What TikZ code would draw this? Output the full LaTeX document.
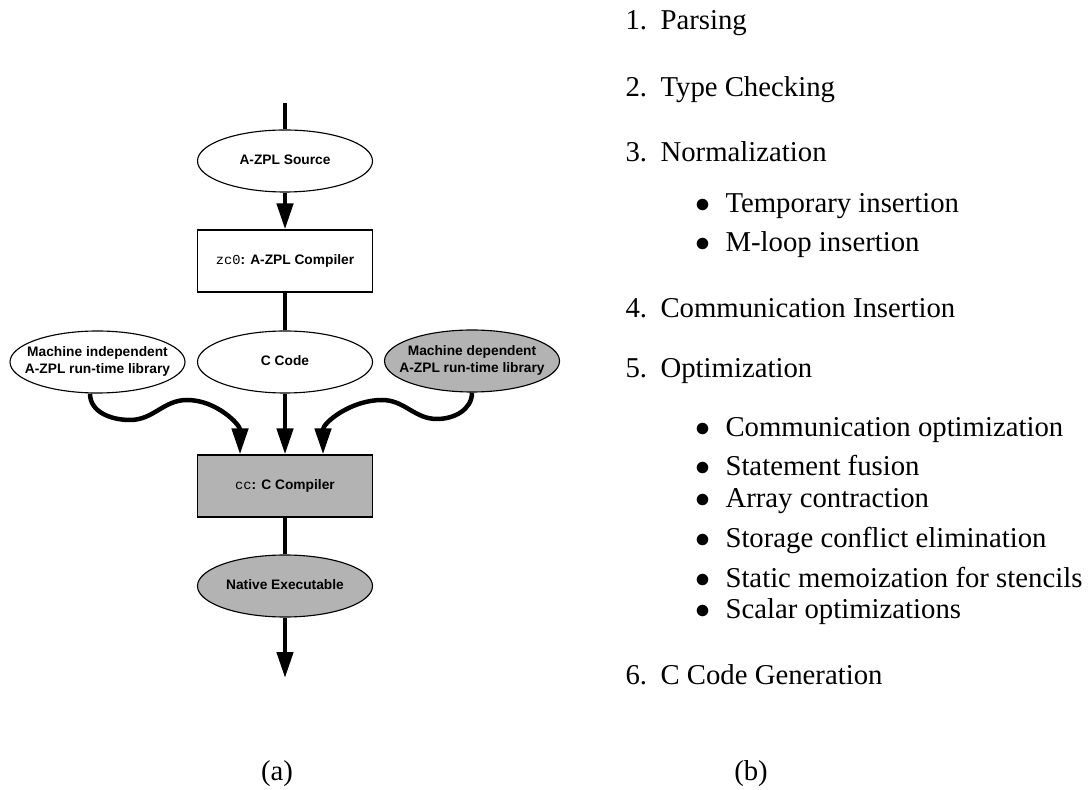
\documentclass[tikz,border=0pt]{standalone}
\usepackage{fontspec}
\setmainfont{Liberation Serif}
\setsansfont{Liberation Sans}
\setmonofont{Liberation Mono}
\usetikzlibrary{shapes.geometric,arrows.meta}
\definecolor{boxgray}{RGB}{179,179,179}
\newcommand{\zw}[1]{\makebox[0pt]{\begin{tabular}{@{}c@{}}#1\end{tabular}}}
\tikzset{
  flow/.style={line width=1.8pt},
  flowarr/.style={flow,-{Triangle[length=10.4pt,width=6.4pt]}},
  blob/.style={ellipse,draw,line width=0.45pt,inner sep=0pt,minimum width=70pt,minimum height=24.8pt,
    font=\fontsize{5.5}{6.8}\selectfont\sffamily\bfseries},
  stage/.style={rectangle,draw,line width=0.45pt,inner sep=0pt,minimum width=70pt,minimum height=24.8pt,
    font=\fontsize{5.5}{6.8}\selectfont\sffamily\bfseries},
  listtext/.style={anchor=base west,inner sep=0pt,font=\fontsize{11.5}{13.8}\selectfont}
}
\begin{document}
\begin{tikzpicture}[x=0.4pt,y=-0.4pt]
        \useasboundingbox (0,0) rectangle (1090,790);
        % (a) the tool chain
        \coordinate (in) at (285,103);
        \coordinate (out) at (285,678);
        \node[blob] (src) at (285,161) {\zw{A-ZPL Source}};
        \node[stage] (zc) at (285,261) {{\mdseries\ttfamily zc0}: A-ZPL Compiler};
        \node[blob] (ccode) at (285,362) {\zw{C Code}};
        \node[blob] (indep) at (97.5,362) {\zw{Machine independent\\A-ZPL run-time library}};
        \node[blob,fill=boxgray] (dep) at (472,361) {\zw{Machine dependent\\A-ZPL run-time library}};
        \node[stage,fill=boxgray] (cc) at (285,486) {{\mdseries\ttfamily cc}: C Compiler};
        \node[blob,fill=boxgray] (native) at (285,586) {\zw{Native Executable}};
        \draw[flow] (in) -- (src.north);
        \draw[flowarr] (src.south) -- (zc.north);
        \draw[flow] (zc.south) -- (ccode.north);
        \draw[flowarr] (ccode.south) -- (cc.north);
        \draw[flow] (cc.south) -- (native.north);
        \draw[flowarr] (native.south) -- (out);
        \draw[flowarr] ([xshift=-3pt]indep.south) to[out=-90,in=180] (130,420)
            to[out=0,in=180] (187,400) to[out=0,in=90] ([xshift=-18pt]cc.north);
        \draw[flowarr] (dep.south) to[out=-90,in=0] (437,419)
            to[out=180,in=0] (382,400) to[out=180,in=90] ([xshift=15.2pt]cc.north);
        % (b) the compiler phases
        \foreach \n/\y/\t in {1/30/Parsing,2/97/Type Checking,3/162/Normalization,
            4/318/Communication Insertion,5/378/Optimization,6/684/C Code Generation}
            \node[listtext] (phase\n) at (625,\y) {\n.\hspace{5.4pt}\t};
        \foreach \k/\y/\t in {1/213/Temporary insertion,2/252/M-loop insertion,
            3/437/Communication optimization,4/476/Statement fusion,5/508/Array contraction,
            6/547/Storage conflict elimination,7/587/Static memoization for stencils,
            8/618/Scalar optimizations}
            \node[listtext] (item\k) at (695,\y) {$\bullet$\hspace{6pt}\t};
        \node[listtext,anchor=base] (capa) at (277,780) {(a)};
        \node[listtext,anchor=base] (capb) at (751,780) {(b)};
\end{tikzpicture}
\end{document}
